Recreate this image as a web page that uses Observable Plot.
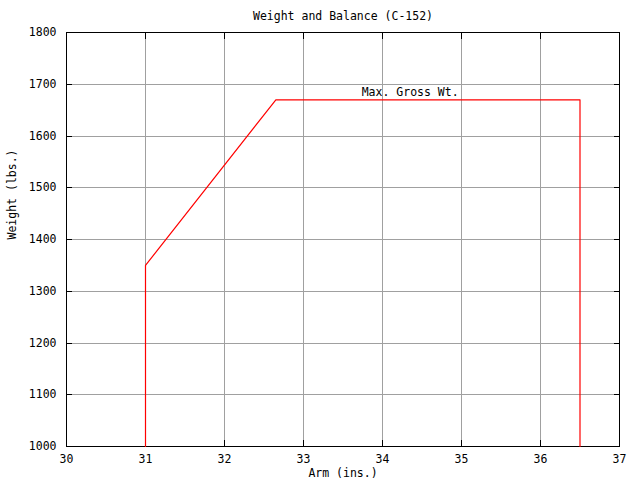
<!DOCTYPE html>
<html>
<head>
<meta charset="utf-8">
<script src="https://cdn.jsdelivr.net/npm/d3@7"></script>
<script src="https://cdn.jsdelivr.net/npm/@observablehq/plot@0.6"></script>
<style>
  html, body { margin: 0; padding: 0; background: #fff; }
  svg { display: block; }
</style>
</head>
<body>
<div id="chart"></div>
<script>
const title = "Weight and Balance (C-152)";
const xLabel = "Arm (ins.)";
const yLabel = "Weight (lbs.)";
const envelopeArm = [31, 31, 32.65, 36.5, 36.5];
const envelopeWeight = [1000, 1350, 1670, 1670, 1000];
const xTicks = [30, 31, 32, 33, 34, 35, 36, 37];
const yTicks = [1000, 1100, 1200, 1300, 1400, 1500, 1600, 1700, 1800];
const annotationText = ["Max. Gross Wt."];
const annotationArm = [34.35];
const annotationWeight = [1670];

const envelope = envelopeArm.map((a, i) => ({arm: a, weight: envelopeWeight[i]}));
const annotations = annotationText.map((t, i) => ({text: t, arm: annotationArm[i], weight: annotationWeight[i]}));

const font = "DejaVu Sans Mono";

const plot = Plot.plot({
  width: 640,
  height: 480,
  marginLeft: 66,
  marginRight: 21,
  marginTop: 32,
  marginBottom: 34,
  style: {fontFamily: font, fontSize: "11.5px", background: "#fff", color: "#000"},
  x: {domain: [30, 37]},
  y: {domain: [1000, 1800]},
  marks: [
    Plot.gridX(xTicks.slice(1, -1), {stroke: "#a0a0a0", strokeOpacity: 1, shapeRendering: "crispEdges"}),
    Plot.gridY(yTicks.slice(1, -1), {stroke: "#a0a0a0", strokeOpacity: 1, shapeRendering: "crispEdges"}),
    Plot.axisX(xTicks, {anchor: "bottom", tickSize: -6, tickPadding: 14, tickFormat: d => String(d), label: null, fill: "#000", shapeRendering: "crispEdges"}),
    Plot.axisX(xTicks, {anchor: "top", tickSize: -6, tickFormat: () => "", label: null, shapeRendering: "crispEdges"}),
    Plot.axisY(yTicks, {anchor: "left", tickSize: -6, tickPadding: 16, tickFormat: d => String(d), label: null, fill: "#000", shapeRendering: "crispEdges"}),
    Plot.axisY(yTicks, {anchor: "right", tickSize: -6, tickFormat: () => "", label: null, shapeRendering: "crispEdges"}),
    Plot.frame({stroke: "#000", strokeWidth: 1, shapeRendering: "crispEdges"}),
    Plot.line(envelope, {x: "arm", y: "weight", stroke: "#ff0000", strokeWidth: 1.2}),
    Plot.text(annotations, {x: "arm", y: "weight", text: "text", dy: -7, fill: "#000", fontSize: 11.5}),
    Plot.text([title], {frameAnchor: "top", dy: -21, text: d => d, fill: "#000", fontSize: 11.5}),
    Plot.text([xLabel], {frameAnchor: "bottom", dy: 30, text: d => d, fill: "#000", fontSize: 11.5}),
    Plot.text([yLabel], {frameAnchor: "left", dx: -54, rotate: -90, text: d => d, fill: "#000", fontSize: 11.5})
  ]
});
document.getElementById("chart").appendChild(plot);
</script>
</body>
</html>
